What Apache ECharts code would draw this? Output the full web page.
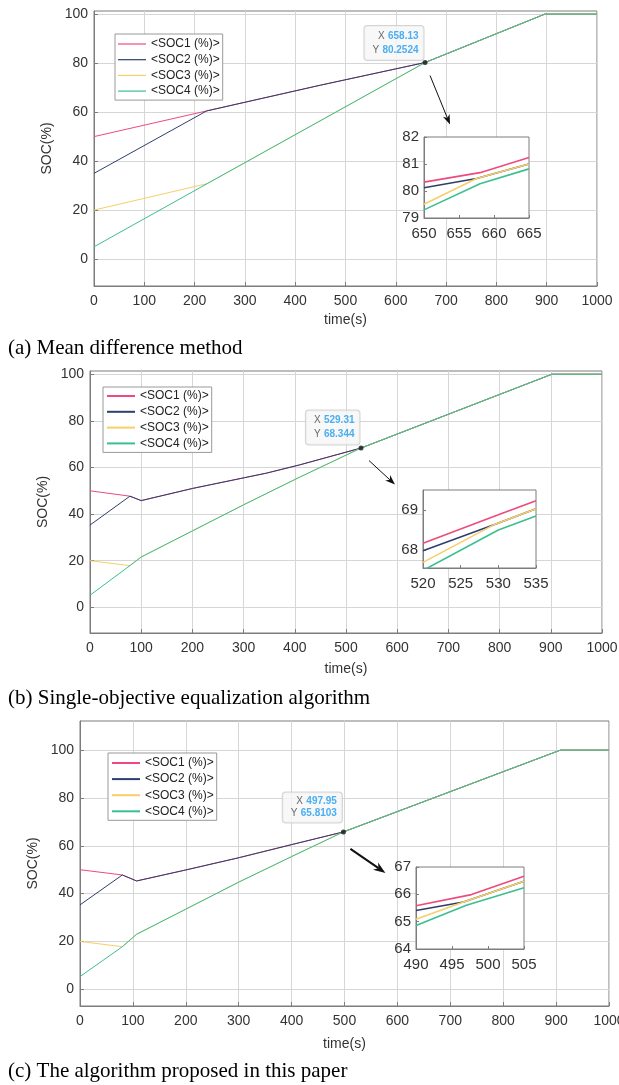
<!DOCTYPE html>
<html>
<head>
<meta charset="utf-8">
<script src="https://cdn.jsdelivr.net/npm/echarts@6/dist/echarts.min.js"></script>
<style>
html,body{margin:0;padding:0;background:#fff}
#c{width:619px;height:1085px}
</style>
</head>
<body>
<div id="c"></div>
<script>
// ---------- series names and colours ----------
const socNames = ['<SOC1 (%)>', '<SOC2 (%)>', '<SOC3 (%)>', '<SOC4 (%)>'];
const socColors = ['#ee4a7e', '#2e3f6e', '#f6cf6a', '#3bbf8f'];

// ---------- (a) Mean difference method: [time s, SOC %] ----------
const aSoc1 = [[0, 50], [224, 60.5], [450, 71.0], [658.13, 80.2524], [896, 100], [1000, 100]];
const aSoc2 = [[0, 35], [224, 60.5], [450, 71.0], [658.13, 80.2524], [896, 100], [1000, 100]];
const aSoc3 = [[0, 20], [225, 30.8], [658.13, 80.2524], [896, 100], [1000, 100]];
const aSoc4 = [[0, 5], [225, 30.8], [658.13, 80.2524], [896, 100], [1000, 100]];
const aTip = [658.13, 80.2524];
// zoomed window 650–665 s
const aZoom1 = [[650, 80.33], [658, 80.68], [665, 81.24]];
const aZoom2 = [[650, 80.12], [657.5, 80.46], [665, 81.0]];
const aZoom3 = [[650, 79.51], [657.5, 80.46], [665, 81.0]];
const aZoom4 = [[650, 79.3], [658, 80.27], [665, 80.82]];

// ---------- (b) Single-objective equalization algorithm ----------
const bSoc1 = [[0, 50], [78, 47.7], [100, 45.8], [200, 51.0], [345, 57.6], [409, 61.1], [529.31, 68.344], [902, 100], [1000, 100]];
const bSoc2 = [[0, 35.3], [78, 47.7], [100, 45.8], [200, 51.0], [345, 57.6], [409, 61.1], [529.31, 68.344], [902, 100], [1000, 100]];
const bSoc3 = [[0, 20], [78, 17.9], [100, 21.6], [200, 32.8], [300, 44.0], [409, 55.8], [529.31, 68.344], [902, 100], [1000, 100]];
const bSoc4 = [[0, 5.2], [78, 17.9], [100, 21.6], [200, 32.8], [300, 44.0], [409, 55.8], [529.31, 68.344], [902, 100], [1000, 100]];
const bTip = [529.31, 68.344];
// zoomed window 520–535 s
const bZoom1 = [[520, 68.17], [530, 68.88], [535, 69.23]];
const bZoom2 = [[520, 67.98], [529.5, 68.64], [535, 69.03]];
const bZoom3 = [[520, 67.69], [529.5, 68.64], [535, 69.03]];
const bZoom4 = [[520, 67.49], [530, 68.5], [535, 68.85]];

// ---------- (c) Proposed algorithm ----------
const cSoc1 = [[0, 50], [80, 47.8], [107, 45.3], [200, 49.9], [300, 55.0], [400, 60.5], [497.95, 65.8103], [908, 100], [1000, 100]];
const cSoc2 = [[0, 35.3], [80, 47.8], [107, 45.3], [200, 49.9], [300, 55.0], [400, 60.5], [497.95, 65.8103], [908, 100], [1000, 100]];
const cSoc3 = [[0, 20], [80, 17.8], [107, 23.0], [200, 33.5], [300, 44.8], [400, 55.5], [497.95, 65.8103], [908, 100], [1000, 100]];
const cSoc4 = [[0, 5.3], [80, 17.8], [107, 23.0], [200, 33.5], [300, 44.8], [400, 55.5], [497.95, 65.8103], [908, 100], [1000, 100]];
const cTip = [497.95, 65.8103];
// zoomed window 490–505 s
const cZoom1 = [[490, 65.58], [497.7, 65.99], [505, 66.66]];
const cZoom2 = [[490, 65.41], [496.6, 65.72], [505, 66.48]];
const cZoom3 = [[490, 65.09], [496.6, 65.72], [505, 66.48]];
const cZoom4 = [[490, 64.86], [497, 65.6], [505, 66.24]];

// ---------- tick values ----------
const mainYTicks = [0, 20, 40, 60, 80, 100];
const bZoomYTicks = [68, 69];

const captions = [
  '(a) Mean difference method',
  '(b) Single-objective equalization algorithm',
  '(c) The algorithm proposed in this paper'
];

// ---------- layout ----------
const SANS = '"Liberation Sans", Arial, sans-serif';
const SERIF = '"Liberation Serif", "Times New Roman", serif';
const TXT = '#333';
const AXIS = '#7d7d7d';
const GRIDLINE = '#d6d6d6';
const plain = v => String(v);

const panels = [
  { grid: { left: 94, top: 11, width: 503, height: 275 }, yMin: -11, yMax: 101.3, yNameGap: 34, xNameGap: 27,
    sets: [aSoc1, aSoc2, aSoc3, aSoc4], tip: aTip, tipPos: [1, -34], tipLH: 14,
    inset: { grid: { left: 424, top: 137, width: 105, height: 81 }, xMin: 650, xMax: 665, yMin: 79, yMax: 82, sets: [aZoom1, aZoom2, aZoom3, aZoom4] },
    legend: { left: 115, top: 34, padding: [3, 3, 2, 3], itemGap: 1.7, itemHeight: 1.2 },
    arrow: { s: [5, 13], e: [25, 62], w: 1 }, caption: { x: 8, y: 348 } },
  { grid: { left: 90, top: 371, width: 512, height: 262 }, yMin: -11, yMax: 101.4, yNameGap: 35, xNameGap: 29,
    sets: [bSoc1, bSoc2, bSoc3, bSoc4], tip: bTip, tipPos: [1, -35], tipLH: 14,
    inset: { grid: { left: 423, top: 490, width: 113, height: 78 }, xMin: 520, xMax: 535, yMin: 67.55, yMax: 69.5, yTicks: bZoomYTicks, sets: [bZoom1, bZoom2, bZoom3, bZoom4] },
    legend: { left: 103, top: 387, padding: [2, 3, 2, 4], itemGap: 1.8, itemHeight: 2 },
    arrow: { s: [8, 12.5], e: [34, 36.5], w: 1 }, caption: { x: 8, y: 698 } },
  { grid: { left: 80, top: 721, width: 529, height: 285 }, yMin: -7, yMax: 112.2, yNameGap: 35, xNameGap: 31,
    sets: [cSoc1, cSoc2, cSoc3, cSoc4], tip: cTip, tipPos: [1, -37], tipLH: 12,
    inset: { grid: { left: 416, top: 867, width: 108, height: 82 }, xMin: 490, xMax: 505, yMin: 64, yMax: 67, sets: [cZoom1, cZoom2, cZoom3, cZoom4] },
    legend: { left: 108, top: 753, padding: [3, 3, 2, 4], itemGap: 2.1, itemHeight: 2 },
    arrow: { s: [7, 17], e: [42, 41], w: 2 }, caption: { x: 8, y: 1071.5 } }
];

const gridBase = { show: true, borderColor: AXIS, borderWidth: 1, backgroundColor: '#fff', containLabel: false, outerBoundsMode: 'none' };
const grids = [], xAxes = [], yAxes = [], series = [], legends = [];

panels.forEach((p, i) => {
  const gi = grids.length;
  grids.push(Object.assign({}, gridBase, { z: 0 }, p.grid));
  xAxes.push({
    type: 'value', gridIndex: gi, min: 0, max: 1000, interval: 100,
    name: 'time(s)', nameLocation: 'middle', nameGap: p.xNameGap,
    nameTextStyle: { fontFamily: SANS, fontSize: 14, color: TXT },
    axisLine: { onZero: false, lineStyle: { color: AXIS } },
    axisTick: { inside: true, length: 4, lineStyle: { color: AXIS } },
    axisLabel: { fontFamily: SANS, fontSize: 14, color: TXT, margin: 8, formatter: plain },
    splitLine: { show: true, lineStyle: { color: GRIDLINE, width: 1 } }
  });
  yAxes.push({
    type: 'value', gridIndex: gi, min: p.yMin, max: p.yMax,
    name: 'SOC(%)', nameLocation: 'middle', nameGap: p.yNameGap,
    nameTextStyle: { fontFamily: SANS, fontSize: 14, color: TXT },
    axisLine: { show: true, onZero: false, lineStyle: { color: AXIS } },
    axisTick: { show: true, inside: true, length: 4, customValues: mainYTicks, lineStyle: { color: AXIS } },
    axisLabel: { fontFamily: SANS, fontSize: 14, color: TXT, margin: 6, customValues: mainYTicks, formatter: plain },
    splitLine: { show: true, lineStyle: { color: GRIDLINE, width: 1 } }
  });
  p.sets.forEach((d, k) => {
    series.push({
      type: 'line', name: socNames[k], xAxisIndex: gi, yAxisIndex: gi, data: d,
      symbol: 'none', color: socColors[k], lineStyle: { width: 1, color: socColors[k] },
      z: 2, animation: false
    });
  });
  // data tip marker with its X/Y readout
  series.push({
    type: 'scatter', xAxisIndex: gi, yAxisIndex: gi, data: [p.tip], symbolSize: 5,
    itemStyle: { color: '#111' }, z: 9, animation: false, silent: true,
    label: {
      show: true, position: p.tipPos, align: 'right', verticalAlign: 'top',
      backgroundColor: '#f6f6f6', borderColor: '#c9c9c9', borderWidth: 1, borderRadius: 3,
      padding: [3, 5, 3, 8],
      formatter: q => `{k|X} {v|${q.value[0]}}\n{k|Y} {v|${q.value[1]}}`,
      rich: {
        k: { fontFamily: SANS, fontSize: 10, color: '#444', lineHeight: p.tipLH, align: 'right' },
        v: { fontFamily: SANS, fontSize: 10, fontWeight: 'bold', color: '#1d9bf0', lineHeight: p.tipLH, align: 'right' }
      }
    }
  });

  // zoomed inset
  const ii = grids.length;
  const ins = p.inset;
  grids.push(Object.assign({}, gridBase, { z: 5 }, ins.grid));
  xAxes.push({
    type: 'value', gridIndex: ii, min: ins.xMin, max: ins.xMax, interval: 5, z: 6,
    axisLine: { onZero: false, lineStyle: { color: AXIS } },
    axisTick: { inside: true, length: 3, lineStyle: { color: AXIS } },
    axisLabel: { fontFamily: SANS, fontSize: 15, color: TXT, margin: 8, formatter: plain },
    splitLine: { show: false }
  });
  const yIns = {
    type: 'value', gridIndex: ii, min: ins.yMin, max: ins.yMax, z: 6,
    axisLine: { show: true, onZero: false, lineStyle: { color: AXIS } },
    axisTick: { show: true, inside: true, length: 3, lineStyle: { color: AXIS } },
    axisLabel: { fontFamily: SANS, fontSize: 15, color: TXT, margin: 5, formatter: plain },
    splitLine: { show: false }
  };
  if (ins.yTicks) {
    yIns.axisTick.customValues = ins.yTicks;
    yIns.axisLabel.customValues = ins.yTicks;
  } else {
    yIns.interval = 1;
  }
  yAxes.push(yIns);
  ins.sets.forEach((d, k) => {
    series.push({
      type: 'line', name: socNames[k], xAxisIndex: ii, yAxisIndex: ii, data: d,
      symbol: 'none', color: socColors[k], lineStyle: { width: 1.6, color: socColors[k] },
      z: 7, clip: true, animation: false
    });
  });

  legends.push({
    data: socNames, orient: 'vertical', left: p.legend.left, top: p.legend.top,
    padding: p.legend.padding, itemGap: p.legend.itemGap, itemWidth: 28, itemHeight: p.legend.itemHeight,
    icon: 'rect', selectedMode: false, backgroundColor: '#fff', borderColor: '#999', borderWidth: 1,
    textStyle: { fontFamily: SANS, fontSize: 12, color: '#222', lineHeight: 14 }, z: 8
  });
});

const chart = echarts.init(document.getElementById('c'), null, { renderer: 'canvas', width: 619, height: 1085 });
chart.setOption({
  animation: false,
  backgroundColor: '#fff',
  grid: grids, xAxis: xAxes, yAxis: yAxes, legend: legends, series: series
});

// arrows pointing from each data tip to its zoomed inset, plus panel captions
function arrowShapes(x1, y1, x2, y2, w) {
  const a = Math.atan2(y2 - y1, x2 - x1);
  const c = Math.cos(a), s = Math.sin(a);
  const L = w > 1 ? 12 : 10, W = w > 1 ? 4.5 : 3.6;
  const bx = x2 - L * c, by = y2 - L * s;
  const ix = x2 - L * 0.7 * c, iy = y2 - L * 0.7 * s;
  return [
    { type: 'line', shape: { x1: x1, y1: y1, x2: ix, y2: iy }, style: { stroke: '#111', lineWidth: w }, z: 10, silent: true },
    { type: 'polygon', shape: { points: [[x2, y2], [bx - W * s, by + W * c], [ix, iy], [bx + W * s, by - W * c]] },
      style: { fill: '#111' }, z: 10, silent: true }
  ];
}

const graphics = [];
panels.forEach((p, i) => {
  const pt = chart.convertToPixel({ gridIndex: i * 2 }, p.tip);
  graphics.push(...arrowShapes(pt[0] + p.arrow.s[0], pt[1] + p.arrow.s[1], pt[0] + p.arrow.e[0], pt[1] + p.arrow.e[1], p.arrow.w));
  graphics.push({
    type: 'text', x: p.caption.x, y: p.caption.y, z: 10, silent: true,
    style: { text: captions[i], font: '21px ' + SERIF, fill: '#000', verticalAlign: 'middle' }
  });
});
chart.setOption({ graphic: graphics });
</script>
</body>
</html>
